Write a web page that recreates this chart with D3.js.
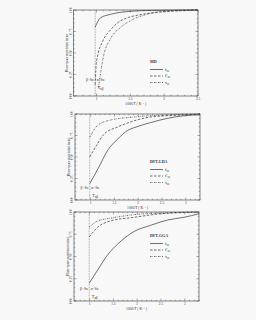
<!DOCTYPE html>
<html lang="en">
<head>
<meta charset="utf-8">
<title>Correlation factor</title>
<script src="https://d3js.org/d3.v7.min.js"></script>
<style>
  body { margin: 0; background: #f8f8f8; }
  text { font-family: "Liberation Serif", serif; fill: #333; }
</style>
</head>
<body>
<svg id="chart" width="256" height="320"></svg>
<script>
// values, [1000/T, factor]
var mdFss  = [[0.98,0.80],[1.06,0.91],[1.21,0.95],[1.51,0.985],[1.81,0.995],[2.5,1.0]];
var mdFpss = [[0.98,0.13],[1.0,0.40],[1.10,0.65],[1.21,0.77],[1.31,0.85],[1.46,0.91],[1.61,0.94],[1.81,0.965],[2.21,0.99],[2.5,1.0]];
var mdTau  = [[1.03,0.10],[1.10,0.45],[1.21,0.67],[1.36,0.80],[1.51,0.88],[1.70,0.94],[2.0,0.985],[2.3,0.998],[2.5,1.0]];

var ldaFss  = [[0.98,0.19],[1.17,0.38],[1.36,0.58],[1.57,0.71],[1.78,0.81],[1.91,0.84],[2.26,0.90],[2.62,0.95],[2.96,0.98],[3.3,0.99]];
var ldaFpss = [[0.98,0.50],[1.15,0.66],[1.27,0.76],[1.57,0.85],[1.91,0.92],[2.26,0.965],[2.96,0.99],[3.3,1.0]];
var ldaTau  = [[0.98,0.73],[1.15,0.87],[1.42,0.93],[1.91,0.965],[2.62,0.99],[3.3,1.0]];

var ggaFss  = [[0.99,0.20],[1.17,0.35],[1.38,0.52],[1.59,0.64],[1.93,0.78],[2.28,0.85],[2.64,0.91],[2.98,0.94],[3.3,0.98]];
var ggaFpss = [[0.99,0.72],[1.17,0.83],[1.44,0.90],[1.93,0.94],[2.49,0.98],[2.98,0.995],[3.3,1.0]];
var ggaTau  = [[0.99,0.83],[1.17,0.90],[1.44,0.93],[1.93,0.97],[2.64,0.99],[3.3,1.0]];

var panelNames = ["MD", "DFT-LDA", "DFT-GGA"];
var xDomains = [[0.66, 2.5], [0.67, 3.3], [0.67, 3.3]];
var xTicks = [[1, 1.5, 2, 2.5], [1, 1.5, 2, 2.5, 3], [1, 1.5, 2, 2.5, 3]];
var yTicks = [0, 0.25, 0.5, 0.75, 1];
var tTransition = [0.98, 0.98, 0.99];
var legendNames = ["f", "f\u2032", "\u03c4"];

var series = [[mdFss, mdFpss, mdTau], [ldaFss, ldaFpss, ldaTau], [ggaFss, ggaFpss, ggaTau]];

// plot boxes for the three stacked panels
var boxes = [
  { x0: 73.5, x1: 198, y0: 10, y1: 96 },
  { x0: 75, x1: 200, y0: 114, y1: 200 },
  { x0: 74, x1: 199, y0: 212, y1: 301 }
];
var dashes = [null, "2.5,1.5", "1.5,1,0.5,1"];
var ink = "#333";

var svg = d3.select("#chart");
svg.append("rect").attr("width", 256).attr("height", 320).attr("fill", "#f8f8f8");

boxes.forEach(function (b, p) {
  var x = d3.scaleLinear().domain(xDomains[p]).range([b.x0, b.x1]);
  var y = d3.scaleLinear().domain([0, 1]).range([b.y1, b.y0]);
  var g = svg.append("g");

  // frame
  g.append("rect")
    .attr("x", b.x0).attr("y", b.y0)
    .attr("width", b.x1 - b.x0).attr("height", b.y1 - b.y0)
    .attr("fill", "none").attr("stroke", ink).attr("stroke-width", 0.6);

  // inward ticks on all sides (gnuplot style), minor ones too
  var xMinor = d3.range(Math.ceil(xDomains[p][0] * 10) / 10, xDomains[p][1] + 1e-6, 0.1);
  xMinor.forEach(function (v) {
    var major = xTicks[p].some(function (t) { return Math.abs(t - v) < 1e-6; });
    var len = major ? 2.5 : 1.2;
    g.append("line").attr("x1", x(v)).attr("x2", x(v)).attr("y1", b.y1).attr("y2", b.y1 - len)
      .attr("stroke", ink).attr("stroke-width", 0.4);
    g.append("line").attr("x1", x(v)).attr("x2", x(v)).attr("y1", b.y0).attr("y2", b.y0 + len)
      .attr("stroke", ink).attr("stroke-width", 0.4);
  });
  d3.range(0, 1.0001, 0.05).forEach(function (v, i) {
    var len = (i % 5 === 0) ? 2.5 : 1.2;
    g.append("line").attr("x1", b.x0).attr("x2", b.x0 + len).attr("y1", y(v)).attr("y2", y(v))
      .attr("stroke", ink).attr("stroke-width", 0.4);
    g.append("line").attr("x1", b.x1).attr("x2", b.x1 - len).attr("y1", y(v)).attr("y2", y(v))
      .attr("stroke", ink).attr("stroke-width", 0.4);
  });

  // tick labels
  g.selectAll(".xl").data(xTicks[p]).enter().append("text")
    .attr("x", function (d) { return x(d); }).attr("y", b.y1 + 4)
    .attr("text-anchor", "middle").attr("font-size", 3.4)
    .text(function (d) { return d; });
  g.selectAll(".yl").data(yTicks).enter().append("text")
    .attr("transform", function (d) { return "translate(" + (b.x0 - 1.8) + "," + y(d) + ") rotate(-90)"; })
    .attr("text-anchor", "middle").attr("font-size", 3.4)
    .text(function (d) { return d3.format(".2f")(d); });

  // axis titles
  var xt = g.append("text").attr("x", (b.x0 + b.x1) / 2).attr("y", b.y1 + 9)
    .attr("text-anchor", "middle").attr("font-size", 3.6);
  xt.append("tspan").text("1000/T ( K");
  xt.append("tspan").attr("dy", -1.2).attr("font-size", 2.6).text("\u22121");
  xt.append("tspan").attr("dy", 1.2).text(" )");
  g.append("text")
    .attr("transform", "translate(" + (b.x0 - 5.5) + "," + ((b.y0 + b.y1) / 2) + ") rotate(-90)")
    .attr("text-anchor", "middle").attr("font-size", 3.2)
    .text("Phase-space correlation factor");

  // transition temperature
  g.append("line")
    .attr("x1", x(tTransition[p])).attr("x2", x(tTransition[p]))
    .attr("y1", b.y0).attr("y2", b.y1)
    .attr("stroke", "#666").attr("stroke-width", 0.6).attr("stroke-dasharray", "0.8,0.8");
  var ay = p === 0 ? b.y1 - 15 : b.y1 - 11;
  g.append("text").attr("x", x(tTransition[p]) - 1.5).attr("y", ay)
    .attr("text-anchor", "end").attr("font-size", 3.6).text("\u03b2\u2212Sn");
  g.append("text").attr("x", x(tTransition[p]) + 1.5).attr("y", ay)
    .attr("text-anchor", "start").attr("font-size", 3.6).text("\u03b1\u2212Sn");
  var tl = g.append("text").attr("x", x(tTransition[p]) + 2.5).attr("y", ay + 8)
    .attr("font-size", 4.4);
  tl.append("tspan").text("T");
  tl.append("tspan").attr("dy", 1.2).attr("font-size", 3).text("\u03b1\u03b2");

  // curves
  var line = d3.line()
    .x(function (d) { return x(d[0]); })
    .y(function (d) { return y(d[1]); })
    .curve(d3.curveMonotoneX);
  series[p].forEach(function (s, i) {
    g.append("path").datum(s).attr("d", line)
      .attr("fill", "none").attr("stroke", ink).attr("stroke-width", 0.7)
      .attr("stroke-dasharray", dashes[i]);
  });

  // legend
  var lx = 150, ly = b.y0 + (p === 0 ? 53 : p === 1 ? 49 : 25);
  g.append("text").attr("x", lx).attr("y", ly).attr("font-size", 4)
    .attr("font-weight", "bold").text(panelNames[p]);
  legendNames.forEach(function (n, i) {
    var yy = ly + 6.5 + i * 6.5;
    g.append("line").attr("x1", lx).attr("x2", lx + 13).attr("y1", yy).attr("y2", yy)
      .attr("stroke", ink).attr("stroke-width", 0.7).attr("stroke-dasharray", dashes[i]);
    var t = g.append("text").attr("x", lx + 15).attr("y", yy + 1).attr("font-size", 4.6);
    t.append("tspan").text(n);
    t.append("tspan").attr("dy", 1.4).attr("font-size", 3).text("ss");
  });
});
</script>
</body>
</html>
